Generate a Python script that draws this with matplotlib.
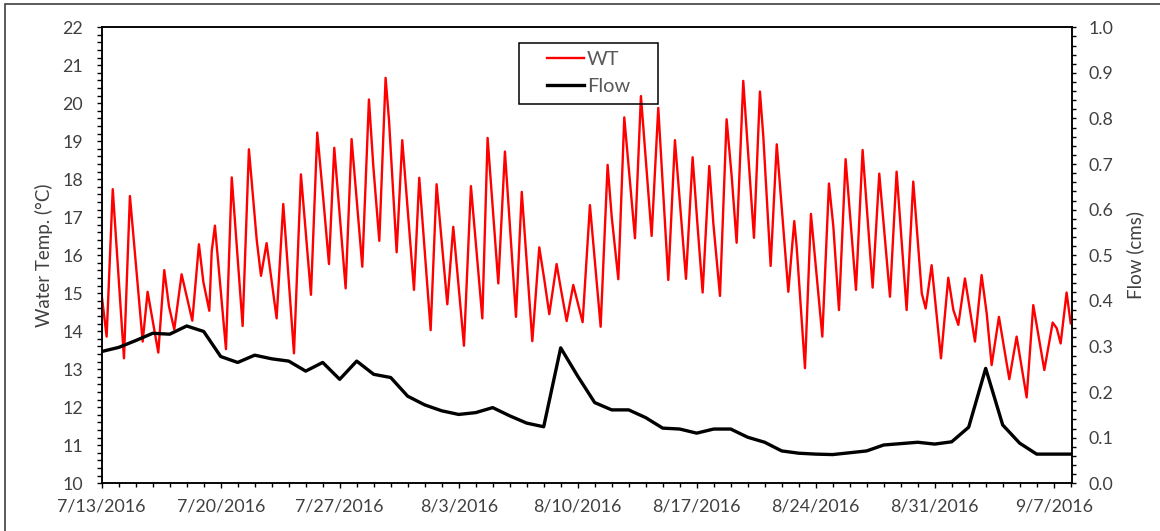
import matplotlib
matplotlib.use('Agg')
import matplotlib.pyplot as plt
from matplotlib.ticker import MultipleLocator, FormatStrFormatter
from matplotlib.patches import Rectangle
import pandas as pd

plt.rcParams['font.family'] = ['Lato', 'DejaVu Sans']

# Water temperature: daily highs / lows (days since 7/13/2016)
wt_day = [0.0, 0.29, 0.65, 1.31, 1.66, 2.41, 2.70, 3.33, 3.68, 3.96, 4.27, 4.70, 5.33, 5.72, 5.98,
          6.33, 6.47, 6.66, 7.31, 7.65, 8.29, 8.66, 9.12, 9.37, 9.70, 10.29, 10.68, 11.31, 11.72,
          12.31, 12.68, 13.04, 13.37, 13.68, 14.35, 14.70, 15.33, 15.72, 15.98, 16.33, 16.70, 16.90,
          17.35, 17.68, 18.37, 18.68, 19.35, 19.70, 20.33, 20.68, 21.31, 21.72, 22.39, 22.70, 23.33,
          23.72, 24.37, 24.71, 25.33, 25.74, 26.04, 26.33, 26.76, 27.02, 27.35, 27.74, 28.29, 28.72,
          29.35, 29.76, 30.00, 30.39, 30.74, 31.37, 31.72, 32.35, 32.74, 33.33, 33.72, 34.37, 34.76,
          35.04, 35.35, 35.74, 35.98, 36.37, 36.76, 37.06, 37.35, 37.74, 38.00, 38.37, 38.72, 38.92,
          39.35, 39.71, 40.39, 40.74, 40.88, 41.37, 41.72, 42.39, 42.78, 43.04, 43.37, 43.76, 44.37,
          44.76, 45.35, 45.74, 46.37, 46.76, 47.35, 47.74, 48.24, 48.47, 48.82, 49.37, 49.80, 50.10,
          50.39, 50.78, 51.37, 51.76, 52.06, 52.35, 52.78, 53.39, 53.82, 54.41, 54.80, 55.45, 55.94,
          56.18, 56.41, 56.76, 57.0]
wt_temp = [14.95, 13.86, 17.74, 13.29, 17.56, 13.73, 15.04, 13.44, 15.61, 14.65, 14.05, 15.50, 14.28, 16.29, 15.30,
           14.54, 16.10, 16.78, 13.53, 18.05, 14.14, 18.79, 16.40, 15.46, 16.32, 14.34, 17.35, 13.42, 18.13,
           14.96, 19.23, 17.46, 15.77, 18.83, 15.13, 19.06, 15.70, 20.10, 18.33, 16.38, 20.67, 19.56,
           16.08, 19.03, 15.09, 18.04, 14.03, 17.87, 14.71, 16.75, 13.62, 17.82, 14.34, 19.09, 15.26,
           18.73, 14.38, 17.67, 13.74, 16.21, 15.35, 14.45, 15.77, 15.09, 14.27, 15.22, 14.24, 17.32,
           14.12, 18.38, 17.02, 15.37, 19.63, 16.45, 20.19, 16.51, 19.88, 15.35, 19.03, 15.38, 18.58,
           16.84, 15.02, 18.35, 16.84, 14.93, 19.58, 18.07, 16.33, 20.59, 18.86, 16.46, 20.31, 19.12,
           15.72, 18.92, 15.04, 16.90, 16.23, 13.03, 17.09, 13.86, 17.89, 16.75, 14.56, 18.53, 15.09,
           18.77, 15.15, 18.15, 14.91, 18.20, 14.56, 17.94, 15.00, 14.60, 15.74, 13.29, 15.41, 14.56,
           14.17, 15.39, 13.73, 15.48, 14.47, 13.11, 14.38, 12.74, 13.86, 12.26, 14.69, 12.98, 14.23,
           14.08, 13.68, 15.02, 14.21]

# Daily flow (cms)
flow_day = list(range(58))
flow_cms = [0.289, 0.298, 0.313, 0.329, 0.327, 0.345, 0.333, 0.278, 0.265, 0.281, 0.273, 0.268, 0.246, 0.265,
            0.228, 0.268, 0.239, 0.232, 0.191, 0.172, 0.159, 0.151, 0.155, 0.166, 0.148, 0.132, 0.124, 0.297,
            0.235, 0.177, 0.161, 0.161, 0.144, 0.121, 0.119, 0.110, 0.119, 0.119, 0.101, 0.090, 0.071, 0.066,
            0.064, 0.063, 0.067, 0.071, 0.084, 0.087, 0.090, 0.086, 0.091, 0.123, 0.252, 0.128, 0.088, 0.064,
            0.064, 0.064]

start = pd.Timestamp('2016-07-13')
wt_time = start + pd.to_timedelta(wt_day, unit='D')
flow_time = start + pd.to_timedelta(flow_day, unit='D')
week_ticks = pd.date_range(start, periods=9, freq='7D')
day_ticks = pd.date_range(start, periods=58, freq='D')

W, H = 1160, 531
fig = plt.figure(figsize=(W / 100, H / 100), dpi=100)
fig.set_facecolor('white')
ax = fig.add_axes([101.7 / W, 1 - 483.3 / H, 970 / W, 456 / H])
ax2 = ax.twinx()

lt, = ax.plot(wt_time, wt_temp, color='#ff0000', linewidth=1.7, label='WT')
lf, = ax2.plot(flow_time, flow_cms, color='black', linewidth=2.4, label='Flow')

grey = '#404040'
ax.set_xlim(start, start + pd.Timedelta(days=57.06))
ax.set_xticks(week_ticks)
ax.set_xticklabels(['%d/%d/%d' % (t.month, t.day, t.year) for t in week_ticks])
ax.set_xticks(day_ticks, minor=True)

ax.set_ylim(10, 22)
ax.yaxis.set_major_locator(MultipleLocator(1))
ax.yaxis.set_minor_locator(MultipleLocator(0.2))
ax2.set_ylim(0, 1.0)
ax2.yaxis.set_major_locator(MultipleLocator(0.1))
ax2.yaxis.set_minor_locator(MultipleLocator(0.02))
ax2.yaxis.set_major_formatter(FormatStrFormatter('%.1f'))

ax.tick_params(axis='y', which='both', direction='out', length=3.6, width=1, labelsize=12.8,
               labelcolor=grey, pad=10, right=False)
ax.tick_params(axis='x', which='major', direction='out', length=3.6, width=1, labelsize=12.8,
               labelcolor=grey, pad=7.5)
ax.tick_params(axis='x', which='minor', direction='out', length=2.9, width=1)
ax2.tick_params(axis='y', which='both', direction='out', length=2.9, width=1, labelsize=12.8,
                labelcolor=grey, pad=9.5)

for a in (ax, ax2):
    for s in a.spines.values():
        s.set_linewidth(1.1)
        s.set_color('black')

ax.set_ylabel('Water Temp. (°C)', fontsize=13.5, color=grey)
ax.yaxis.set_label_coords(-0.0502, 0.5)
ax2.set_ylabel('Flow (cms)', fontsize=13.5, color=grey)
ax2.yaxis.set_label_coords(1.0567, 0.5)

# legend (Excel style, open box)
lgd = ax2.legend([lt, lf], ['WT', 'Flow'], loc='center', frameon=False, fontsize=14.4,
                 bbox_to_anchor=(588.3 / W, 1 - 73.3 / H), bbox_transform=fig.transFigure,
                 handlelength=1.85, handletextpad=0.15, labelspacing=0.5, borderpad=0.2)
for txt in lgd.get_texts():
    txt.set_color('#595959')
fig.add_artist(Rectangle((519 / W, 1 - 104 / H), 138.7 / W, 61.3 / H, transform=fig.transFigure,
                         fill=False, edgecolor='black', linewidth=1.1))

# outer chart border
fig.add_artist(Rectangle((5 / W, -0.1), 1.2, 1.1 - 4 / H, transform=fig.transFigure,
                         fill=False, edgecolor='#404040', linewidth=1.2))

fig.savefig('out.png', dpi=100)
